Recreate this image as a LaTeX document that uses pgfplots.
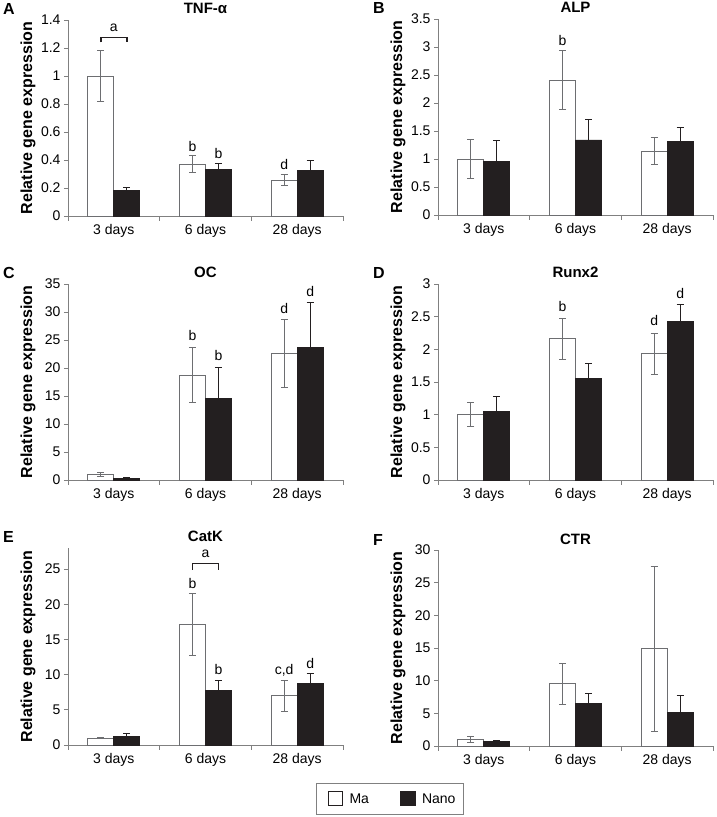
\documentclass[border=0pt]{standalone}
\usepackage{pgfplots}
\pgfplotsset{compat=1.18}
\usepackage{fontspec}
\setmainfont{Liberation Sans}
\definecolor{axgray}{HTML}{808080}
\definecolor{bargray}{HTML}{6D6E71}
\definecolor{nano}{HTML}{231F20}
\newcommand{\tf}{\fontsize{14}{16}\selectfont}
\pgfplotsset{
  panel/.style={
    width=275pt, height=196pt, scale only axis,
    ybar=0pt, bar width=26pt,
    xmin=-0.5, xmax=2.5, ymin=0,
    enlarge x limits=false, enlarge y limits=false,
    xtick={0,1,2}, xticklabels={3 days, 6 days, 28 days},
    minor xtick={-0.5,0.5,1.5,2.5},
    axis x line=bottom, axis y line=left,
    axis line style={-, draw=axgray, line width=0.9pt},
    tick align=outside,
    major tick length=4pt, minor tick length=5pt,
    major x tick style={draw=none},
    minor x tick style={draw=axgray, line width=0.9pt},
    y tick style={draw=axgray, line width=0.9pt},
    tick label style={font=\tf},
    /pgf/number format/assume math mode=true,
    xticklabel style={yshift=-1pt},
    clip=false,
    every axis title/.style={font=\fontsize{15}{17}\selectfont\bfseries, at={(axis description cs:0.5,1)}, anchor=base, yshift=6pt},
    ylabel={Relative gene expression},
    every axis y label/.style={at={([xshift=-40pt]axis description cs:0,0.5)}, anchor=center, rotate=90, font=\fontsize{16}{18}\selectfont\bfseries},
  },
  ma/.style={fill=white, draw=bargray, line width=0.9pt,
    error bars/.cd, y dir=both, y explicit,
    error bar style={draw=bargray, line width=0.9pt},
    error mark options={rotate=90, draw=bargray, mark size=3.5pt, line width=0.9pt}},
  na/.style={fill=nano, draw=nano, line width=0.9pt,
    error bars/.cd, y dir=both, y explicit,
    error bar style={draw=nano, line width=0.9pt},
    error mark options={rotate=90, draw=nano, mark size=3.5pt, line width=0.9pt}},
}
\newcommand{\letter}[1]{\node[anchor=base west, inner sep=0pt, font=\fontsize{16}{18}\selectfont\bfseries] at ([xshift=-65pt, yshift=5pt]rel axis cs:0,1) {#1};}
\newcommand{\ann}[3]{\node[anchor=base, font=\tf, inner sep=0pt] at (axis cs:#1,#2) {#3};}
\begin{document}
\begin{tikzpicture}
\useasboundingbox (0,0) rectangle (717pt,817pt);
% A
\begin{axis}[panel, at={(68pt,601pt)}, anchor=south west, ymax=1.4, ytick distance=0.2, title={TNF-α}]
\addplot[ma] coordinates {(0,1.00) +- (0,0.18) (1,0.37) +- (0,0.06) (2,0.255) +- (0,0.04)};
\addplot[na] coordinates {(0,0.185) +- (0,0.022) (1,0.33) +- (0,0.045) (2,0.324) +- (0,0.075)};
\letter{A}
\draw[nano, line width=1.5pt] (axis cs:-0.142,1.24) -- (axis cs:-0.142,1.275) -- (axis cs:0.142,1.275) -- (axis cs:0.142,1.24);
\ann{0}{1.32}{a}
\ann{0.858}{0.464}{b}
\ann{1.142}{0.414}{b}
\ann{1.858}{0.333}{d}
\end{axis}
% B
\begin{axis}[panel, at={(438pt,602pt)}, anchor=south west, ymax=3.5, ytick distance=0.5, title={ALP}]
\addplot[ma] coordinates {(0,1.00) +- (0,0.35) (1,2.41) +- (0,0.52) (2,1.14) +- (0,0.24)};
\addplot[na] coordinates {(0,0.95) +- (0,0.38) (1,1.34) +- (0,0.36) (2,1.31) +- (0,0.25)};
\letter{B}
\ann{0.858}{3.02}{b}
\end{axis}
% C
\begin{axis}[panel, at={(68pt,337pt)}, anchor=south west, ymax=35, ytick distance=5, title={OC}]
\addplot[ma] coordinates {(0,1.0) +- (0,0.35) (1,18.7) +- (0,4.9) (2,22.6) +- (0,6.0)};
\addplot[na] coordinates {(0,0.3) +- (0,0.2) (1,14.5) +- (0,5.6) (2,23.7) +- (0,8.0)};
\letter{C}
\ann{0.858}{24.9}{b}
\ann{1.142}{21.3}{b}
\ann{1.858}{29.8}{d}
\ann{2.142}{32.8}{d}
\end{axis}
% D
\begin{axis}[panel, at={(438pt,337pt)}, anchor=south west, ymax=3, ytick distance=0.5, title={Runx2}]
\addplot[ma] coordinates {(0,1.0) +- (0,0.18) (1,2.16) +- (0,0.31) (2,1.93) +- (0,0.32)};
\addplot[na] coordinates {(0,1.05) +- (0,0.23) (1,1.56) +- (0,0.22) (2,2.42) +- (0,0.27)};
\letter{D}
\ann{0.858}{2.58}{b}
\ann{1.858}{2.36}{d}
\ann{2.142}{2.78}{d}
\end{axis}
% E
\begin{axis}[panel, at={(68pt,72pt)}, anchor=south west, height=197pt, ymax=28, ytick={0,5,...,25}, title={CatK},
  legend style={at={(1.171,-0.274)}, anchor=center, legend columns=2, draw=axgray, line width=0.9pt, font=\tf,
    inner xsep=6pt, inner ysep=8pt,
    /tikz/every even column/.append style={column sep=24pt}},
  legend image code/.code={\path[draw=none, fill=none] (0pt,0pt) -- (25pt,0pt); \draw[#1, draw=nano, line width=1.4pt] (6pt,-6.5pt) rectangle (20pt,7.5pt);}]
\addplot[ma] coordinates {(0,1.0) +- (0,0.12) (1,17.1) +- (0,4.4) (2,7.0) +- (0,2.2)};
\addplot[na] coordinates {(0,1.25) +- (0,0.45) (1,7.7) +- (0,1.45) (2,8.7) +- (0,1.4)};
\legend{Ma, Nano}
\letter{E}
\draw[nano, line width=1.5pt] (axis cs:0.858,24.9) -- (axis cs:0.858,25.8) -- (axis cs:1.142,25.8) -- (axis cs:1.142,24.9);
\ann{1}{26.7}{a}
\ann{0.858}{22.2}{b}
\ann{1.142}{9.95}{b}
\ann{1.858}{9.95}{c,d}
\ann{2.142}{10.9}{d}
\end{axis}
% F
\begin{axis}[panel, at={(438pt,71pt)}, anchor=south west, ymax=30, ytick distance=5, title={CTR}]
\addplot[ma] coordinates {(0,1.0) +- (0,0.45) (1,9.5) +- (0,3.1) (2,14.9) +- (0,12.6)};
\addplot[na] coordinates {(0,0.75) +- (0,0.15) (1,6.55) +- (0,1.5) (2,5.1) +- (0,2.6)};
\letter{F}
\end{axis}
\end{tikzpicture}
\end{document}
